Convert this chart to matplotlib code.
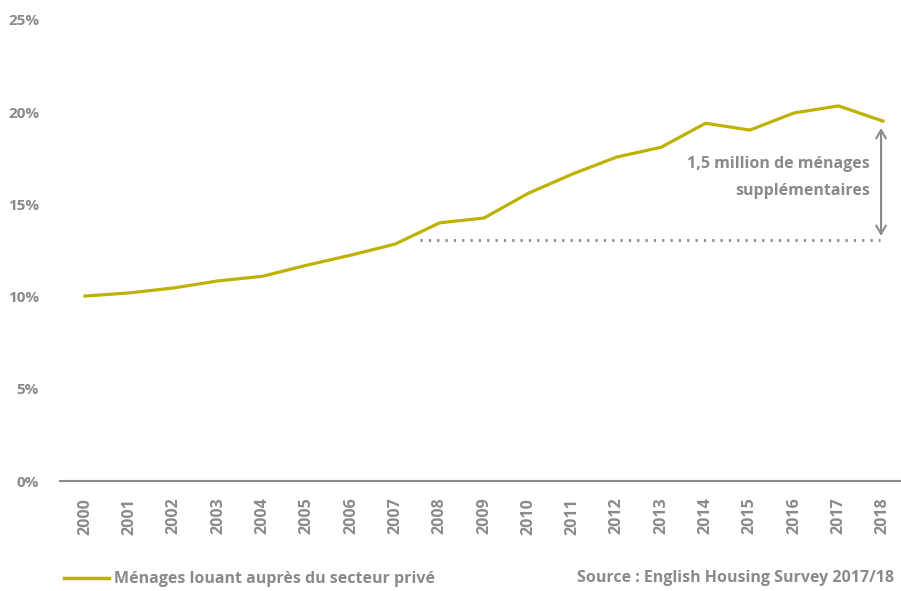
import matplotlib.pyplot as plt
from matplotlib.lines import Line2D

years = list(range(2000, 2019))
share = [10.03, 10.2, 10.47, 10.85, 11.1, 11.7, 12.25, 12.85, 14.0, 14.26,
         15.6, 16.65, 17.57, 18.1, 19.4, 19.03, 19.96, 20.34, 19.52]
yticks = [0, 5, 10, 15, 20, 25]
baseline_2008 = 13.07

olive = '#bfb100'
grey = '#8a8a8a'
plt.rcParams['font.family'] = ['Open Sans', 'DejaVu Sans']

fig = plt.figure(figsize=(9.01, 5.91), dpi=100)
ax = fig.add_axes([0.0666, 0.1861, 0.9334, 0.7801])

ax.plot(years, share, color=olive, linewidth=2.3, solid_joinstyle='round')

# dotted reference level and the gap arrow
ax.hlines(baseline_2008, 2007.56, 2017.93, colors=grey, linestyles=(0, (0.8, 2.2)),
          linewidth=2)
ax.annotate('', xy=(2017.96, 19.14), xytext=(2017.96, 13.29),
            arrowprops=dict(arrowstyle='<->,head_length=0.6,head_width=0.35',
                            color=grey, lw=1.5, shrinkA=0, shrinkB=0))
ax.text(2017.71, 16.45, '1,5 million de ménages\nsupplémentaires', ha='right', va='center',
        color=grey, fontsize=11.5, fontweight='bold', linespacing=1.9)

ax.set_xlim(1999.436, 2018.41)
ax.set_ylim(0, 25)
ax.set_xticks(years)
ax.set_xticklabels([str(y) for y in years], rotation=90, fontsize=11.5,
                   fontweight='bold', color=grey)
ax.set_yticks(yticks)
ax.set_yticklabels([f'{v}%' for v in yticks], fontsize=11, fontweight='bold', color=grey)
ax.tick_params(axis='x', length=0, pad=12)
ax.tick_params(axis='y', length=0, pad=15)
for s in ['top', 'right', 'left']:
    ax.spines[s].set_visible(False)
ax.spines['bottom'].set_color(grey)
ax.spines['bottom'].set_linewidth(1.5)

handle = Line2D([], [], color=olive, linewidth=2.5)
fig.legend([handle], ['Ménages louant auprès du secteur privé'], loc='center left',
           bbox_to_anchor=(0.055, 0.02), frameon=False, handlelength=2.8,
           handletextpad=0.35, prop={'size': 11.5, 'weight': 'bold'}, labelcolor=grey)
fig.text(0.64, 0.022, 'Source : English Housing Survey 2017/18', fontsize=11.5,
         fontweight='bold', color=grey, va='center', ha='left')

fig.savefig('out.png', dpi=100)
